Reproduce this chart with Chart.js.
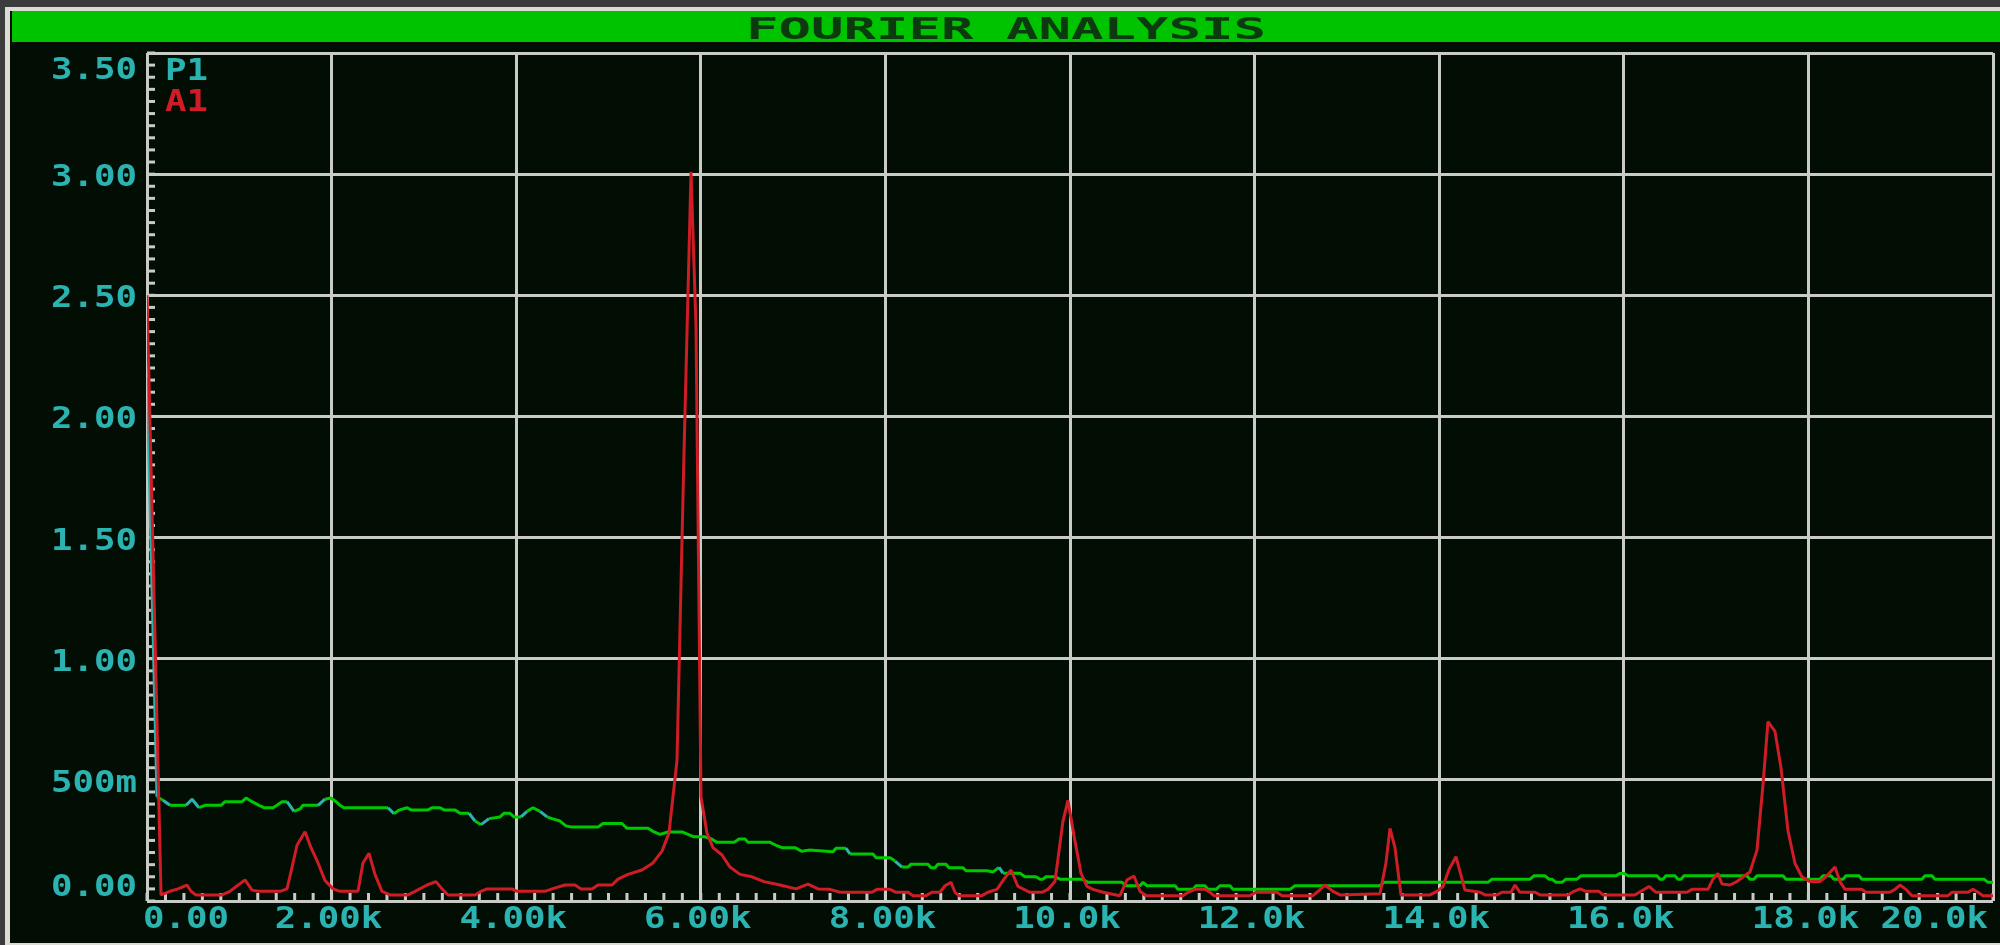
<!DOCTYPE html>
<html>
<head>
<meta charset="utf-8">
<title>Fourier Analysis</title>
<script src="https://cdn.jsdelivr.net/npm/chart.js@4.4.1/dist/chart.umd.min.js"></script>
<style>
  html, body { margin: 0; padding: 0; background: #3c3c3c; overflow: hidden; }
  canvas { display: block; }
</style>
</head>
<body>
<canvas id="fft" width="2000" height="945"></canvas>
<script>
// ---- chart text -------------------------------------------------------
const chartTitle = 'FOURIER ANALYSIS';
const seriesNames = ['P1', 'A1'];

// ---- axis ticks -------------------------------------------------------
const xTickStep = 2000;   // Hz
const xTickLabels = ['0.00', '2.00k', '4.00k', '6.00k', '8.00k', '10.0k',
                     '12.0k', '14.0k', '16.0k', '18.0k', '20.0k'];
const yTickStep = 0.5;
const yTickLabels = ['0.00', '500m', '1.00', '1.50', '2.00', '2.50', '3.00', '3.50'];

// ---- trace P1 (frequency in Hz, magnitude) ----------------------------
const p1Freq = [
  0, 108, 173, 249, 423, 488, 563, 628, 802, 845,
  1029, 1073, 1138, 1213, 1268, 1365, 1408, 1463, 1517, 1593,
  1658, 1690, 1853, 1928, 1993, 2048, 2091, 2134, 2611, 2676,
  2730, 2817, 2860, 3044, 3088, 3174, 3218, 3337, 3391, 3489,
  3554, 3619, 3705, 3824, 3868, 3933, 3976, 4052, 4117, 4182,
  4258, 4334, 4388, 4474, 4539, 4605, 4886, 4940, 5146, 5200,
  5428, 5493, 5558, 5645, 5796, 5926, 6045, 6121, 6175, 6360,
  6414, 6479, 6511, 6750, 6815, 6880, 7020, 7096, 7172, 7432,
  7465, 7573, 7616, 7865, 7898, 8050, 8104, 8180, 8245, 8277,
  8461, 8494, 8537, 8570, 8656, 8689, 8841, 8873, 9101, 9166,
  9231, 9274, 9458, 9512, 9631, 9675, 9707, 9740, 9837, 9891,
  10130, 10195, 10563, 10607, 10758, 10791, 10834, 11138, 11170, 11332,
  11365, 11462, 11495, 11582, 11625, 11733, 11766, 12383, 12437, 13358,
  13402, 14529, 14572, 14984, 15027, 15146, 15189, 15222, 15265, 15330,
  15373, 15493, 15536, 15915, 15959, 16002, 16045, 16359, 16392, 16424,
  16457, 16554, 16587, 16620, 16652, 17334, 17367, 17410, 17443, 17725,
  17757, 18125, 18158, 18245, 18277, 18375, 18407, 18548, 18580, 19230,
  19263, 19339, 19371, 19902, 19945, 20000
];
const p1Mag = [
  2.16, 0.43, 0.416, 0.395, 0.395, 0.42, 0.385, 0.395, 0.395, 0.41,
  0.41, 0.425, 0.41, 0.395, 0.385, 0.385, 0.395, 0.41, 0.41, 0.37,
  0.38, 0.395, 0.395, 0.42, 0.425, 0.41, 0.395, 0.385, 0.385, 0.36,
  0.375, 0.385, 0.376, 0.376, 0.385, 0.385, 0.376, 0.376, 0.362, 0.362,
  0.33, 0.315, 0.34, 0.347, 0.362, 0.362, 0.347, 0.347, 0.37, 0.385,
  0.37, 0.347, 0.34, 0.33, 0.31, 0.305, 0.305, 0.32, 0.32, 0.30,
  0.30, 0.285, 0.275, 0.285, 0.285, 0.265, 0.265, 0.255, 0.242, 0.242,
  0.256, 0.256, 0.242, 0.242, 0.23, 0.22, 0.22, 0.205, 0.21, 0.203,
  0.218, 0.218, 0.194, 0.194, 0.179, 0.179, 0.165, 0.14, 0.14, 0.152,
  0.152, 0.137, 0.137, 0.152, 0.152, 0.137, 0.137, 0.125, 0.125, 0.12,
  0.139, 0.115, 0.115, 0.10, 0.10, 0.09, 0.09, 0.10, 0.10, 0.09,
  0.09, 0.077, 0.077, 0.063, 0.063, 0.077, 0.063, 0.063, 0.048, 0.048,
  0.063, 0.063, 0.048, 0.048, 0.063, 0.063, 0.048, 0.048, 0.063, 0.063,
  0.077, 0.077, 0.09, 0.09, 0.104, 0.104, 0.09, 0.09, 0.077, 0.077,
  0.09, 0.09, 0.104, 0.104, 0.114, 0.114, 0.104, 0.104, 0.09, 0.09,
  0.104, 0.104, 0.09, 0.09, 0.104, 0.104, 0.09, 0.09, 0.104, 0.104,
  0.09, 0.09, 0.104, 0.104, 0.09, 0.09, 0.104, 0.104, 0.09, 0.09,
  0.104, 0.104, 0.09, 0.09, 0.077, 0.077
];

// ---- trace A1 (frequency in Hz, magnitude) ----------------------------
const a1Freq = [
  0, 152, 249, 336, 433, 477, 531, 813, 899, 1062,
  1138, 1203, 1441, 1517, 1560, 1625, 1712, 1777, 1853, 1928,
  2015, 2091, 2286, 2340, 2405, 2470, 2546, 2633, 2828, 2904,
  3034, 3131, 3196, 3261, 3554, 3619, 3684, 3954, 4009, 4312,
  4388, 4529, 4637, 4702, 4821, 4886, 5038, 5103, 5211, 5363,
  5482, 5580, 5655, 5742, 5818, 5894, 5948, 6002, 6067, 6132,
  6230, 6316, 6425, 6555, 6685, 6858, 7031, 7161, 7270, 7400,
  7508, 7855, 7909, 8050, 8115, 8245, 8299, 8440, 8505, 8591,
  8646, 8711, 8754, 8797, 9046, 9111, 9209, 9285, 9361, 9436,
  9501, 9566, 9696, 9761, 9837, 9924, 9978, 10043, 10119, 10184,
  10249, 10357, 10541, 10617, 10693, 10758, 10823, 11224, 11278, 11354,
  11462, 11517, 11560, 11950, 12015, 12242, 12297, 12632, 12687, 12762,
  12849, 12925, 13358, 13423, 13467, 13521, 13586, 13900, 13976, 14041,
  14106, 14182, 14279, 14442, 14496, 14626, 14680, 14778, 14821, 14875,
  15038, 15092, 15395, 15460, 15525, 15590, 15731, 15774, 16121, 16186,
  16273, 16348, 16684, 16739, 16912, 16966, 17020, 17064, 17150, 17226,
  17291, 17367, 17443, 17508, 17562, 17638, 17703, 17779, 17855, 17930,
  18017, 18125, 18190, 18288, 18342, 18396, 18580, 18623, 18884, 18938,
  18992, 19057, 19122, 19512, 19555, 19729, 19783, 19837, 19891, 20000
];
const a1Mag = [
  2.50, 0.025, 0.04, 0.05, 0.066, 0.04, 0.025, 0.025, 0.04, 0.087,
  0.045, 0.04, 0.04, 0.05, 0.12, 0.23, 0.286, 0.22, 0.157, 0.085,
  0.05, 0.04, 0.04, 0.157, 0.197, 0.11, 0.04, 0.025, 0.025, 0.04,
  0.066, 0.08, 0.05, 0.025, 0.025, 0.04, 0.05, 0.05, 0.04, 0.04,
  0.05, 0.066, 0.066, 0.05, 0.05, 0.066, 0.066, 0.09, 0.11, 0.128,
  0.157, 0.206, 0.28, 0.58, 1.85, 3.01, 2.37, 0.43, 0.28, 0.22,
  0.19, 0.14, 0.11, 0.10, 0.08, 0.066, 0.05, 0.07, 0.05, 0.048,
  0.036, 0.036, 0.048, 0.048, 0.036, 0.036, 0.022, 0.022, 0.036, 0.036,
  0.063, 0.077, 0.036, 0.022, 0.022, 0.036, 0.048, 0.09, 0.128, 0.06,
  0.048, 0.036, 0.036, 0.048, 0.08, 0.33, 0.415, 0.27, 0.115, 0.06,
  0.048, 0.036, 0.022, 0.087, 0.103, 0.04, 0.022, 0.022, 0.036, 0.048,
  0.048, 0.036, 0.022, 0.022, 0.036, 0.036, 0.022, 0.022, 0.04, 0.066,
  0.04, 0.025, 0.03, 0.157, 0.30, 0.22, 0.025, 0.025, 0.04, 0.06,
  0.13, 0.183, 0.045, 0.036, 0.025, 0.025, 0.036, 0.036, 0.066, 0.036,
  0.036, 0.025, 0.025, 0.04, 0.05, 0.04, 0.04, 0.025, 0.025, 0.04,
  0.06, 0.036, 0.036, 0.048, 0.048, 0.09, 0.114, 0.07, 0.066, 0.08,
  0.10, 0.12, 0.21, 0.48, 0.74, 0.70, 0.55, 0.29, 0.155, 0.10,
  0.08, 0.08, 0.10, 0.14, 0.08, 0.048, 0.048, 0.036, 0.036, 0.048,
  0.066, 0.048, 0.022, 0.022, 0.036, 0.036, 0.048, 0.036, 0.022, 0.022
];

// ---- look -------------------------------------------------------------
const SCREEN_BG = '#020e04';
const GRID = '#c8cbc6';
const TEAL = '#2ab3b0';
const GREEN = '#00c800';
const RED = '#d01c24';
const LABEL_FONT = 'bold 30px "DejaVu Sans Mono", "Liberation Mono", monospace';
const LABEL_STRETCH = 1.19;
const TITLE_STRETCH = 1.8;

function stretchedText(ctx, text, x, y, align, stretch) {
  ctx.save();
  ctx.translate(x, y);
  ctx.scale(stretch, 1);
  ctx.textAlign = align;
  ctx.fillText(text, 0, 0);
  ctx.restore();
}

// Window frame, title bar and screen background
const scopeFrame = {
  id: 'scopeFrame',
  beforeDraw(chart) {
    const { ctx, width, height } = chart;
    ctx.save();
    ctx.fillStyle = SCREEN_BG;
    ctx.fillRect(0, 0, width, height);
    ctx.fillStyle = '#3c3c3c';
    ctx.fillRect(0, 0, width, 7);
    ctx.fillRect(0, 0, 5, height);
    ctx.fillStyle = '#dcdcd4';
    ctx.fillRect(5, 7, width - 5, 4);
    ctx.fillRect(5, 7, 5, height - 7);
    ctx.fillRect(5, height - 2, width - 5, 2);
    ctx.fillStyle = '#00c300';
    ctx.fillRect(12, 11, width - 12, 31);
    ctx.font = 'bold 30px "DejaVu Sans Mono", "Liberation Mono", monospace';
    ctx.fillStyle = '#0b3a0e';
    ctx.textBaseline = 'alphabetic';
    stretchedText(ctx, chartTitle, (12 + width) / 2, 39, 'center', TITLE_STRETCH);
    ctx.restore();
  }
};

// Minor tick marks along the inside of the left and bottom edges
const minorTicks = {
  id: 'minorTicks',
  beforeDatasetsDraw(chart) {
    const { ctx, chartArea: a, scales: { x, y } } = chart;
    ctx.save();
    ctx.fillStyle = GRID;
    for (let f = x.min; f <= x.max; f += 200) {
      const px = x.getPixelForValue(f);
      ctx.fillRect(px - 1.5, a.bottom - 8, 3, 8);
    }
    for (let k = 0; k <= 70; k++) {
      const py = y.getPixelForValue(k * 0.05);
      ctx.fillRect(a.left, py - 1.5, 8, 3);
    }
    ctx.restore();
  }
};

// Tick labels kept inside the plot box, plus the trace names
const scopeLabels = {
  id: 'scopeLabels',
  afterDraw(chart) {
    const { ctx, chartArea: a, scales: { x, y } } = chart;
    ctx.save();
    ctx.font = LABEL_FONT;
    ctx.textBaseline = 'alphabetic';
    ctx.fillStyle = TEAL;
    y.ticks.forEach(t => {
      let cy = y.getPixelForValue(t.value) + 1;
      cy = Math.min(Math.max(cy, a.top + 15), a.bottom - 16);
      stretchedText(ctx, t.label, a.left - 10, cy + 11, 'right', LABEL_STRETCH);
    });
    x.ticks.forEach(t => {
      const w = ctx.measureText(t.label).width * LABEL_STRETCH;
      let cx = x.getPixelForValue(t.value) - 3;
      cx = Math.min(Math.max(cx, a.left - 4 + w / 2), a.right - 5 - w / 2);
      stretchedText(ctx, t.label, cx, a.bottom + 27, 'center', LABEL_STRETCH);
    });
    const nameColours = [TEAL, RED];
    chart.data.datasets.forEach((ds, i) => {
      ctx.fillStyle = nameColours[i];
      stretchedText(ctx, ds.label, a.left + 18, a.top + 27 + i * 31, 'left', LABEL_STRETCH);
    });
    ctx.restore();
  }
};

const toPoints = (fs, ms) => fs.map((f, i) => ({ x: f, y: ms[i] }));

// P1 is drawn green; its steeper steps show up in teal
const p1SegmentColour = c => {
  const dy = Math.abs(c.p1.y - c.p0.y);
  const dx = Math.abs(c.p1.x - c.p0.x);
  return dy >= 5 && dy > dx * 0.6 ? TEAL : GREEN;
};

new Chart(document.getElementById('fft'), {
  type: 'line',
  data: {
    datasets: [
      {
        label: seriesNames[0],
        data: toPoints(p1Freq, p1Mag),
        borderColor: GREEN,
        borderWidth: 3,
        pointRadius: 0,
        tension: 0,
        borderJoinStyle: 'bevel',
        order: 2,
        segment: { borderColor: p1SegmentColour }
      },
      {
        label: seriesNames[1],
        data: toPoints(a1Freq, a1Mag),
        borderColor: RED,
        borderWidth: 3,
        pointRadius: 0,
        tension: 0,
        borderJoinStyle: 'bevel',
        order: 1
      }
    ]
  },
  options: {
    responsive: false,
    animation: false,
    devicePixelRatio: 1,
    events: [],
    layout: { padding: { left: 147, right: 7, top: 53, bottom: 44 } },
    plugins: {
      legend: { display: false },
      title: { display: false },
      tooltip: { enabled: false }
    },
    scales: {
      x: {
        type: 'linear',
        min: 0,
        max: 20000,
        ticks: {
          display: false,
          stepSize: xTickStep,
          callback: v => xTickLabels[Math.round(v / xTickStep)]
        },
        grid: { color: GRID, lineWidth: 3, drawTicks: false },
        border: { display: false },
        afterFit: s => { s.height = 0; }
      },
      y: {
        type: 'linear',
        min: 0,
        max: 3.5,
        ticks: {
          display: false,
          stepSize: yTickStep,
          callback: v => yTickLabels[Math.round(v / yTickStep)]
        },
        grid: { color: GRID, lineWidth: 3, drawTicks: false },
        border: { display: false },
        afterFit: s => { s.width = 0; }
      }
    }
  },
  plugins: [scopeFrame, minorTicks, scopeLabels]
});
</script>
</body>
</html>
